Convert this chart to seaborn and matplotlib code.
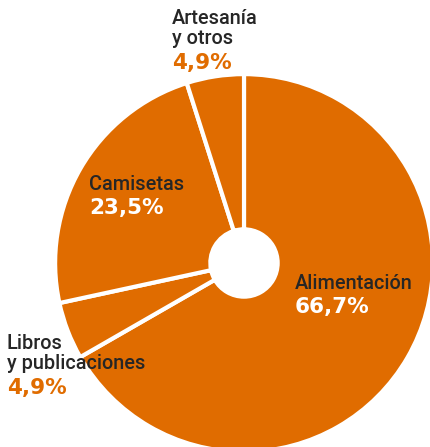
import matplotlib
matplotlib.use('Agg')
import matplotlib.pyplot as plt
import seaborn as sns

# data
labels = ['Alimentación', 'Libros\ny publicaciones', 'Camisetas', 'Artesanía\ny otros']
values = [66.7, 4.9, 23.5, 4.9]
pct_labels = ['66,7%', '4,9%', '23,5%', '4,9%']

sns.set_style('white')
plt.rcParams['font.family'] = ['Roboto', 'DejaVu Sans']

orange = '#E06C00'
dark = '#262626'
W, H = 430, 447

fig = plt.figure(figsize=(W / 100, H / 100), dpi=100)
ax = fig.add_axes([0, 0, 1, 1])

colors = [orange] * len(values)
ax.pie(values, colors=colors, startangle=90, counterclock=False, radius=1.01,
       wedgeprops=dict(width=0.83, edgecolor='white', linewidth=3))

# center at (244, 263) px, radius 187 px
cx, cy, r = 244, 263, 187
ax.set_xlim(-cx / r, (W - cx) / r)
ax.set_ylim(-(H - cy) / r, cy / r)
ax.set_aspect('equal')
ax.axis('off')

def px(x, y):
    return x / W, 1 - y / H

# (label x, label top y, label color, pct color)
text_pos = [
    (295, 274, dark, 'white'),
    (7, 334, dark, orange),
    (89, 175, dark, 'white'),
    (172, 9, dark, orange),
]

for lab, pct, (x, y, lc, pc) in zip(labels, pct_labels, text_pos):
    nlines = lab.count('\n') + 1
    fig.text(*px(x, y), lab, fontsize=14.3, color=lc, va='top', ha='left',
             linespacing=1.05, fontweight='medium')
    fig.text(*px(x, y + 21 * nlines + 2), pct, fontsize=15.5, color=pc, va='top',
             ha='left', fontweight='bold', family=['DejaVu Sans'])

fig.savefig('out.png', dpi=100)
